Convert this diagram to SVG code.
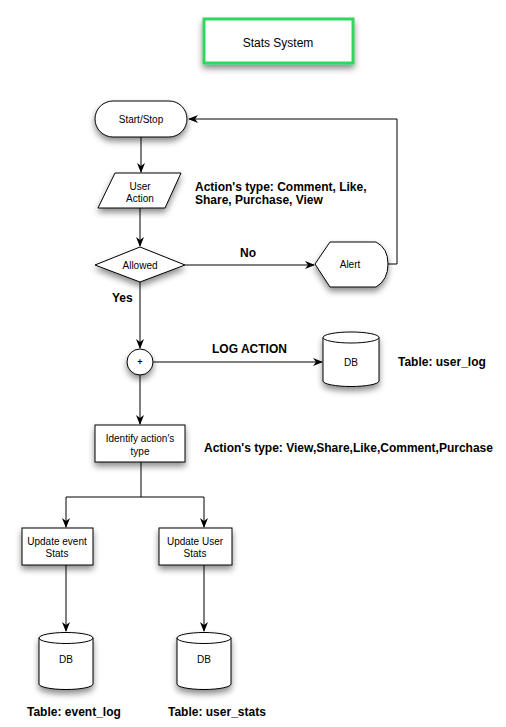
<svg xmlns="http://www.w3.org/2000/svg" width="506" height="727" viewBox="0 0 506 727">
<style>
.n{fill:#fff;stroke:#000;stroke-width:1;filter:url(#sh)}
.t{font-family:"Liberation Sans",Arial,sans-serif;font-size:10px;fill:#000;text-anchor:middle}
.b{font-family:"Liberation Sans",Arial,sans-serif;font-size:12px;font-weight:bold;fill:#000}
.c{fill:none;stroke:#000;stroke-width:1}
</style>
<defs>
<filter id="sh" x="-30%" y="-30%" width="160%" height="170%">
<feDropShadow dx="0" dy="4" stdDeviation="3" flood-color="#000" flood-opacity="0.45"/>
</filter>
<marker id="ar" viewBox="0 0 10 10" refX="9" refY="5" markerWidth="10" markerHeight="10" markerUnits="userSpaceOnUse" orient="auto">
<path d="M0,1 L10,5 L0,9 L3,5 Z" fill="#000"/>
</marker>
</defs>
<rect width="506" height="727" fill="#fff"/>
<g id="title">
<rect x="204" y="19" width="149" height="44" fill="#fff" stroke="#2fd85f" stroke-width="3" filter="url(#sh)"/>
<text class="t" x="278" y="47" style="font-size:12px">Stats System</text>
</g>
<g id="connectors">
<path class="c" d="M141,137 V172" marker-end="url(#ar)"/>
<path class="c" d="M140,208 V246" marker-end="url(#ar)"/>
<path class="c" d="M185,265 H314" marker-end="url(#ar)"/>
<path class="c" d="M387,264 H397 V119 H189" marker-end="url(#ar)"/>
<path class="c" d="M140,282 V348" marker-end="url(#ar)"/>
<path class="c" d="M153,362 H322" marker-end="url(#ar)"/>
<path class="c" d="M140,375 V424" marker-end="url(#ar)"/>
<path class="c" d="M141,462 V497 M66,497 H204"/>
<path class="c" d="M66,497 V527" marker-end="url(#ar)"/>
<path class="c" d="M204,497 V527" marker-end="url(#ar)"/>
<path class="c" d="M66,565 V631" marker-end="url(#ar)"/>
<path class="c" d="M204,565 V631" marker-end="url(#ar)"/>
</g>
<g id="start">
<rect class="n" x="95" y="101" width="92" height="36" rx="18"/>
<text class="t" x="141" y="123">Start/Stop</text>
</g>
<g id="useraction">
<path class="n" d="M115,173 H181 L165,208 H98 Z"/>
<text class="t" x="140" y="190">User</text>
<text class="t" x="140" y="202">Action</text>
</g>
<text class="b" x="195" y="191">Action's type: Comment, Like,</text>
<text class="b" x="195" y="204">Share, Purchase, View</text>
<g id="allowed">
<path class="n" d="M95,265 L140,247 L185,265 L140,282 Z"/>
<text class="t" x="140" y="269">Allowed</text>
</g>
<text class="b" x="240" y="257">No</text>
<text class="b" x="112" y="302">Yes</text>
<g id="alert">
<path class="n" d="M315,264 L330,242 H376 Q388,248 388,264 Q388,280 376,287 H330 Z"/>
<text class="t" x="350" y="268">Alert</text>
</g>
<g id="merge">
<circle class="n" cx="140" cy="362" r="13"/>
<text class="t" x="140" y="365" style="font-weight:bold;font-size:9px">+</text>
</g>
<text class="b" x="212" y="353">LOG ACTION</text>
<g id="db1">
<path class="n" d="M323,337.5 V381 A28,5.5 0 0 0 379,381 V337.5 A28,5.5 0 0 0 323,337.5 Z"/>
<path class="c" d="M323,337.5 A28,5.5 0 0 0 379,337.5"/>
<text class="t" x="351" y="366">DB</text>
</g>
<text class="b" x="398" y="366">Table: user_log</text>
<g id="identify">
<rect class="n" x="95" y="425" width="90" height="37"/>
<text class="t" x="140" y="442">Identify action's</text>
<text class="t" x="140" y="455">type</text>
</g>
<text class="b" x="204" y="452">Action's type: View,Share,Like,Comment,Purchase</text>
<g id="updevent">
<rect class="n" x="22" y="528" width="71" height="37"/>
<text class="t" x="57" y="545">Update event</text>
<text class="t" x="57" y="557">Stats</text>
</g>
<g id="upduser">
<rect class="n" x="159" y="528" width="73" height="37"/>
<text class="t" x="195" y="545">Update User</text>
<text class="t" x="195" y="557">Stats</text>
</g>
<g id="db2">
<path class="n" d="M39,638 V684 A27,5.5 0 0 0 93,684 V638 A27,5.5 0 0 0 39,638 Z"/>
<path class="c" d="M39,638 A27,5.5 0 0 0 93,638"/>
<text class="t" x="66" y="663">DB</text>
</g>
<g id="db3">
<path class="n" d="M177,638 V684 A27,5.5 0 0 0 231,684 V638 A27,5.5 0 0 0 177,638 Z"/>
<path class="c" d="M177,638 A27,5.5 0 0 0 231,638"/>
<text class="t" x="204" y="663">DB</text>
</g>
<text class="b" x="27" y="716">Table: event_log</text>
<text class="b" x="168" y="716">Table: user_stats</text>
</svg>
